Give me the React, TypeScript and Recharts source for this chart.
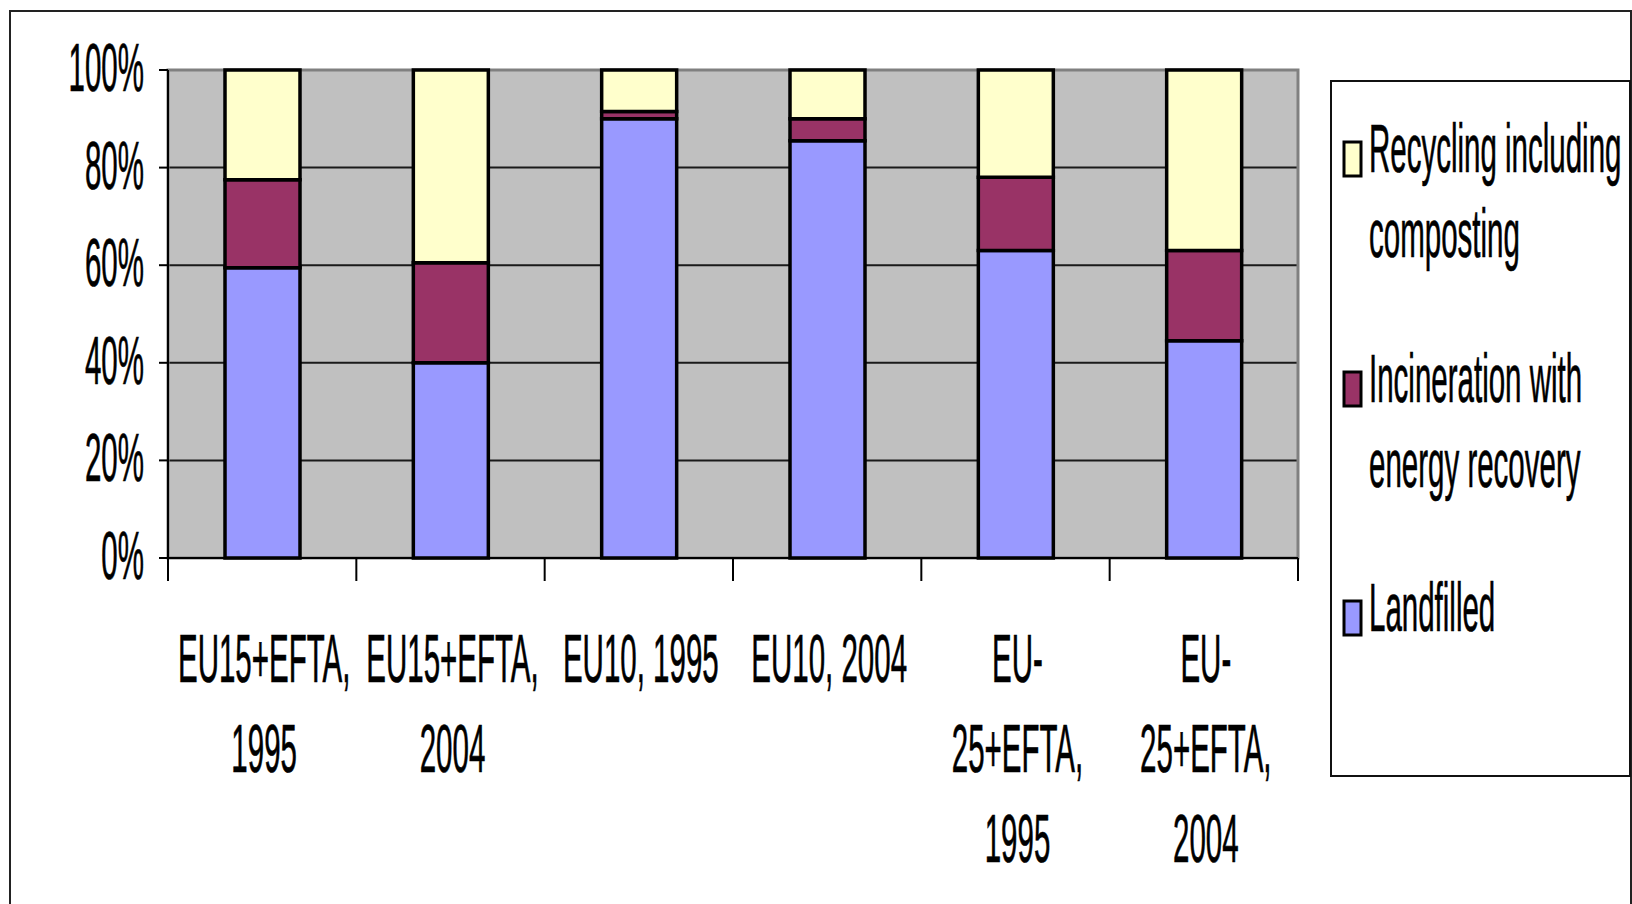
import React from 'react';
import { BarChart, Bar, XAxis, YAxis, CartesianGrid, Legend, ReferenceArea } from 'recharts';

// Municipal waste treatment shares, 100% stacked (old Excel-style chart,
// vertically stretched text)

const categories = ['EU15+EFTA, 1995', 'EU15+EFTA, 2004', 'EU10, 1995', 'EU10, 2004', 'EU-25+EFTA, 1995', 'EU-25+EFTA, 2004'];
const categoryLines = [
  ['EU15+EFTA,', '1995'],
  ['EU15+EFTA,', '2004'],
  ['EU10, 1995'],
  ['EU10, 2004'],
  ['EU-', '25+EFTA,', '1995'],
  ['EU-', '25+EFTA,', '2004'],
];
const landfilled = [59.5, 40, 90, 85.5, 63, 44.5];
const incineration = [18, 20.5, 1.5, 4.5, 15, 18.5];
const recycling = [22.5, 39.5, 8.5, 10, 22, 37];
const yTicks = [0, 0.2, 0.4, 0.6, 0.8, 1];

const series = [
  { key: 'landfilled', name: 'Landfilled', color: '#9999ff', lines: ['Landfilled'] },
  { key: 'incineration', name: 'Incineration with energy recovery', color: '#993366', lines: ['Incineration with', 'energy recovery'] },
  { key: 'recycling', name: 'Recycling including composting', color: '#ffffcc', lines: ['Recycling including', 'composting'] },
];

const rows = categories.map((name, i) => ({
  name,
  i,
  landfilled: landfilled[i],
  incineration: incineration[i],
  recycling: recycling[i],
}));

const W = 1632;
const H = 904;
const MARGIN = { top: 70, right: 334, bottom: 46, left: 68 };
const Y_AXIS_W = 100;
const X_AXIS_H = 300;
const FONT = '"Liberation Sans", Arial, sans-serif';
const FS = 29.5;
const STRETCH = 2.35;

function Stretched({ x, y, anchor, children }: { x: number; y: number; anchor: 'start' | 'middle' | 'end'; children: React.ReactNode }) {
  return (
    <text
      transform={`translate(${x} ${y}) scale(1 ${STRETCH})`}
      textAnchor={anchor}
      fontFamily={FONT}
      fontSize={FS}
      fill="#000"
      stroke="#000"
      strokeWidth={0.3}
    >
      {children}
    </text>
  );
}

function YTick(props: any) {
  const { x, y, payload } = props;
  return (
    <Stretched x={x - 15} y={y + 21} anchor="end">
      {`${Math.round(payload.value * 100)}%`}
    </Stretched>
  );
}

function XTick(props: any) {
  const { x, y, payload, index } = props;
  const plotW = W - MARGIN.left - MARGIN.right - Y_AXIS_W;
  const half = payload.offset ?? plotW / categories.length / 2;
  const lines = categoryLines[index] ?? [String(payload.value)];
  const last = index === categories.length - 1;
  return (
    <g>
      <line x1={x - half} x2={x - half} y1={y} y2={y + 23} stroke="#000" strokeWidth={2} />
      {last && <line x1={x + half} x2={x + half} y1={y} y2={y + 23} stroke="#000" strokeWidth={2} />}
      {lines.map((l, k) => (
        <Stretched key={k} x={x + 2} y={y + 124 + k * 90} anchor="middle">{l}</Stretched>
      ))}
    </g>
  );
}

function LegendBox() {
  const items = [...series].reverse();
  const baselines = [90, 320, 549];
  return (
    <svg width={297} height={693} style={{ display: 'block' }}>
      {items.map((s, i) => (
        <g key={s.key}>
          <rect x={12} y={baselines[i] - 30} width={17} height={34} fill={s.color} stroke="#000" strokeWidth={3} />
          {s.lines.map((l, k) => (
            <Stretched key={k} x={37} y={baselines[i] + k * 85} anchor="start">{l}</Stretched>
          ))}
        </g>
      ))}
    </svg>
  );
}

export default function App() {
  return (
    <div style={{ position: 'absolute', left: 0, top: 0, width: W, height: H, overflow: 'hidden', background: '#fff' }}>
      <div style={{
        position: 'absolute', left: 9, top: 10, width: 1623, height: 1000,
        border: '2px solid #222', boxSizing: 'border-box',
      }} />
      <div style={{ position: 'absolute', left: 0, top: 0 }}>
        <BarChart width={W} height={H} data={rows} margin={MARGIN} stackOffset="expand" barSize={75}>
          <CartesianGrid vertical={false} fill="#c0c0c0" stroke="#1a1a1a" strokeWidth={2} />
          <ReferenceArea y1={0} y2={1} fill="none" stroke="#808080" strokeWidth={3} ifOverflow="visible" />
          {series.map(s => (
            <Bar
              key={s.key}
              dataKey={s.key}
              name={s.name}
              stackId="a"
              fill={s.color}
              stroke="#000"
              strokeWidth={3.5}
              isAnimationActive={false}
            />
          ))}
          <XAxis
            dataKey="name"
            interval={0}
            height={X_AXIS_H}
            tickSize={0}
            tickMargin={0}
            tickLine={false}
            axisLine={{ stroke: '#000', strokeWidth: 2 }}
            tick={<XTick />}
          />
          <YAxis
            width={Y_AXIS_W}
            domain={[0, 1]}
            ticks={yTicks}
            tickSize={9}
            tickMargin={0}
            tickLine={{ stroke: '#000', strokeWidth: 2 }}
            axisLine={{ stroke: '#000', strokeWidth: 2 }}
            tick={<YTick />}
          />
          <Legend
            layout="vertical"
            align="center"
            verticalAlign="middle"
            wrapperStyle={{
              left: 1330, top: 80, width: 301, height: 697,
              border: '2px solid #111', boxSizing: 'border-box', background: '#fff',
            }}
            content={() => <LegendBox />}
          />
        </BarChart>
      </div>
    </div>
  );
}
